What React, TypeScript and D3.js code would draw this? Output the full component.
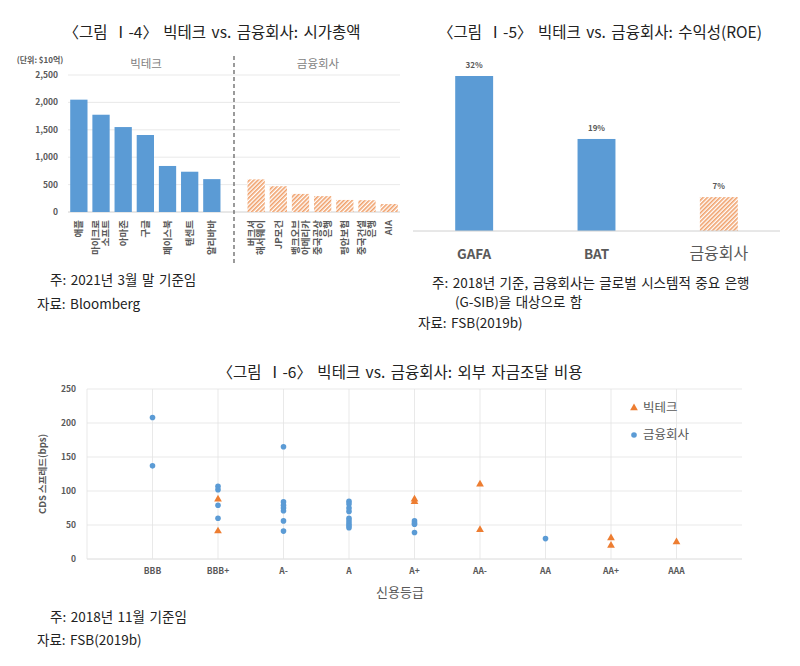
import { useEffect, useRef } from "react";
import * as d3 from "d3";

// Chart I-4: market cap ($10억)
const bigTechNames = ["애플", "마이크로\n소프트", "아마존", "구글", "페이스북", "텐센트", "알리바바"];
const bigTechCap = [2050, 1775, 1550, 1405, 840, 735, 600];
const finNames = ["버크셔\n해서웨이", "JP모건", "뱅크오브\n아메리카", "중국공상\n은행", "평안보험", "중국건설\n은행", "AIA"];
const finCap = [595, 470, 330, 290, 220, 215, 145];
const capTicks = [0, 500, 1000, 1500, 2000, 2500];

// Chart I-5: ROE (%)
const roeGroups = ["GAFA", "BAT", "금융회사"];
const roeValues = [32, 19, 7];

// Chart I-6: CDS spread (bps) by credit rating
const ratings = ["BBB", "BBB+", "A-", "A", "A+", "AA-", "AA", "AA+", "AAA"];
const finCds: [string, number][] = [
  ["BBB", 208], ["BBB", 137],
  ["BBB+", 107], ["BBB+", 102], ["BBB+", 79], ["BBB+", 60],
  ["A-", 165], ["A-", 84], ["A-", 79], ["A-", 75], ["A-", 71], ["A-", 56], ["A-", 41],
  ["A", 85], ["A", 81], ["A", 75], ["A", 70], ["A", 60], ["A", 56], ["A", 52], ["A", 49], ["A", 46],
  ["A+", 56], ["A+", 53], ["A+", 51], ["A+", 39],
  ["AA", 30],
];
const techCds: [string, number][] = [
  ["BBB+", 88], ["BBB+", 41],
  ["A+", 88], ["A+", 84],
  ["AA-", 110], ["AA-", 43],
  ["AA+", 31], ["AA+", 20],
  ["AAA", 25],
];
const cdsTicks = [0, 50, 100, 150, 200, 250];

const BLUE = "#5B9BD5";
const ORANGE = "#ED7D31";
const FONT = "'Noto Sans CJK KR', 'Noto Sans', sans-serif";

export default function App() {
  const ref = useRef<SVGSVGElement | null>(null);

  useEffect(() => {
    if (!ref.current) return;
    const svg = d3.select(ref.current);
    svg.selectAll("*").remove();
    svg.attr("width", 800).attr("height", 666).style("font-family", FONT);

    svg.append("rect").attr("width", 800).attr("height", 666).attr("fill", "#fff");

    const pat = svg.append("defs").append("pattern")
      .attr("id", "hatch").attr("patternUnits", "userSpaceOnUse")
      .attr("width", 3).attr("height", 3).attr("patternTransform", "rotate(45)");
    pat.append("rect").attr("width", 3).attr("height", 3).attr("fill", "#fff");
    pat.append("rect").attr("width", 1.6).attr("height", 3).attr("fill", "#F0A06A");

    const note = (g: d3.Selection<SVGGElement, unknown, null, undefined>, x: number, y: number, s: string) =>
      g.append("text").attr("x", x).attr("y", y).attr("font-size", 13.5).attr("word-spacing", 1.5)
        .attr("fill", "#222").text(s);
    const title = (g: d3.Selection<SVGGElement, unknown, null, undefined>, x: number, y: number, s: string) =>
      g.append("text").attr("x", x).attr("y", y).attr("text-anchor", "middle")
        .attr("font-size", 15.5).attr("word-spacing", 2).attr("fill", "#222").text(s);

    // ---------- Chart I-4 ----------
    const g1 = svg.append("g");
    title(g1, 212, 38, "〈그림 Ⅰ-4〉 빅테크 vs. 금융회사: 시가총액");

    const cats = [...bigTechNames, "", ...finNames];
    const vals = [...bigTechCap, 0, ...finCap];
    const bars = vals.map((v, i) => ({ i, v, tech: i < bigTechNames.length })).filter(d => d.i !== bigTechNames.length);
    const x1 = d3.scaleBand<number>().domain(d3.range(cats.length)).range([68, 400]).paddingInner(0.22).paddingOuter(0.1);
    const y1 = d3.scaleLinear().domain([0, 2500]).range([212, 75]);

    g1.selectAll(".grid").data(capTicks.slice(1)).join("line")
      .attr("x1", 68).attr("x2", 400).attr("y1", d => y1(d)).attr("y2", d => y1(d))
      .attr("stroke", "#e3e3e3").attr("stroke-width", 0.8);
    g1.append("line").attr("x1", 68).attr("x2", 400).attr("y1", y1(0)).attr("y2", y1(0))
      .attr("stroke", "#d0d0d0").attr("stroke-width", 1);
    g1.selectAll(".ytick").data(capTicks).join("text")
      .attr("x", 58).attr("y", d => y1(d) + 3).attr("text-anchor", "end")
      .attr("font-size", 8.5).attr("font-weight", 700).attr("fill", "#595959")
      .text(d => d3.format(",")(d));

    g1.selectAll(".bar").data(bars).join("rect")
      .attr("x", d => x1(d.i)!)
      .attr("y", d => y1(d.v)).attr("width", x1.bandwidth()).attr("height", d => y1(0) - y1(d.v))
      .attr("fill", d => (d.tech ? BLUE : "url(#hatch)"));

    // rotated labels
    cats.forEach((c, i) => {
      if (!c) return;
      const lines = c.split("\n");
      const cx = x1(i)! + x1.bandwidth() / 2;
      const t = g1.append("text")
        .attr("transform", `translate(${cx},220) rotate(-90)`)
        .attr("text-anchor", "end").attr("font-size", 9.5).attr("fill", "#595959").attr("font-weight", 600);
      lines.forEach((l, j) => {
        t.append("tspan").attr("x", 0)
          .attr("dy", j === 0 ? `${0.35 - ((lines.length - 1) * 1.05) / 2}em` : "1.05em")
          .text(l);
      });
    });

    const sepX = x1(bigTechNames.length)! + x1.bandwidth() / 2;
    g1.append("line").attr("x1", sepX).attr("x2", sepX).attr("y1", 56).attr("y2", 265)
      .attr("stroke", "#595959").attr("stroke-width", 1.2).attr("stroke-dasharray", "4,3");
    g1.append("text").attr("x", 40).attr("y", 63).attr("text-anchor", "middle")
      .attr("font-size", 8).attr("font-weight", 700).attr("fill", "#595959").text("(단위: $10억)");
    g1.append("text").attr("x", 146).attr("y", 68).attr("text-anchor", "middle")
      .attr("font-size", 11.5).attr("fill", "#7f7f7f").text("빅테크");
    g1.append("text").attr("x", 318).attr("y", 68).attr("text-anchor", "middle")
      .attr("font-size", 11.5).attr("fill", "#7f7f7f").text("금융회사");

    note(g1, 50, 285, "주: 2021년 3월 말 기준임");
    note(g1, 37, 309, "자료: Bloomberg");

    // ---------- Chart I-5 ----------
    const g2 = svg.append("g");
    title(g2, 600, 38, "〈그림 Ⅰ-5〉 빅테크 vs. 금융회사: 수익성(ROE)");
    const x2 = d3.scaleBand<string>().domain(roeGroups).range([413, 780]).paddingInner(0.69).paddingOuter(0.345);
    const y2 = d3.scaleLinear().domain([0, 32]).range([231, 76]);
    g2.selectAll(".bar").data(roeValues).join("rect")
      .attr("x", (_, i) => x2(roeGroups[i])!).attr("y", d => y2(d))
      .attr("width", x2.bandwidth()).attr("height", d => y2(0) - y2(d))
      .attr("fill", (_, i) => (i < 2 ? BLUE : "url(#hatch)"));
    g2.append("line").attr("x1", 413).attr("x2", 780).attr("y1", y2(0)).attr("y2", y2(0))
      .attr("stroke", "#d0d0d0").attr("stroke-width", 1);
    g2.selectAll(".lab").data(roeValues).join("text")
      .attr("x", (_, i) => x2(roeGroups[i])! + x2.bandwidth() / 2).attr("y", d => y2(d) - 8)
      .attr("text-anchor", "middle").attr("font-size", 8).attr("font-weight", 700).attr("fill", "#595959")
      .text(d => d + "%");
    g2.selectAll(".cat").data(roeGroups).join("text")
      .attr("x", d => x2(d)! + x2.bandwidth() / 2).attr("y", 259).attr("text-anchor", "middle")
      .attr("font-size", (_, i) => (i < 2 ? 13.5 : 16)).attr("font-weight", (_, i) => (i < 2 ? 700 : 400))
      .attr("fill", "#595959").text(d => d);

    note(g2, 432, 288, "주: 2018년 기준, 금융회사는 글로벌 시스템적 중요 은행");
    note(g2, 455, 307, "(G-SIB)을 대상으로 함");
    note(g2, 418, 328, "자료: FSB(2019b)");

    // ---------- Chart I-6 ----------
    const g3 = svg.append("g");
    title(g3, 400, 378, "〈그림 Ⅰ-6〉 빅테크 vs. 금융회사: 외부 자금조달 비용");
    const x3 = d3.scaleLinear().domain([0, ratings.length + 1]).range([87, 742]);
    const y3 = d3.scaleLinear().domain([0, 250]).range([559, 389]);
    const xPos = (r: string) => x3(ratings.indexOf(r) + 1);

    g3.selectAll(".hg").data(cdsTicks).join("line")
      .attr("x1", x3(0)).attr("x2", x3(ratings.length + 1)).attr("y1", d => y3(d)).attr("y2", d => y3(d))
      .attr("stroke", d => (d === 0 ? "#d0d0d0" : "#e3e3e3")).attr("stroke-width", 0.8);
    g3.selectAll(".vg").data(d3.range(0, ratings.length + 1)).join("line")
      .attr("x1", d => x3(d)).attr("x2", d => x3(d)).attr("y1", y3(0)).attr("y2", y3(250))
      .attr("stroke", "#e3e3e3").attr("stroke-width", 0.8);
    g3.selectAll(".yt").data(cdsTicks).join("text")
      .attr("x", 76).attr("y", d => y3(d) + 3).attr("text-anchor", "end")
      .attr("font-size", 8.5).attr("font-weight", 700).attr("fill", "#595959").text(d => d);
    g3.selectAll(".xt").data(ratings).join("text")
      .attr("x", d => xPos(d)).attr("y", 574).attr("text-anchor", "middle")
      .attr("font-size", 8.5).attr("font-weight", 700).attr("fill", "#595959").text(d => d);
    g3.append("text").attr("x", 400).attr("y", 597).attr("text-anchor", "middle")
      .attr("font-size", 13).attr("fill", "#595959").text("신용등급");
    g3.append("text").attr("transform", `translate(46,${y3(125)}) rotate(-90)`).attr("text-anchor", "middle")
      .attr("font-size", 9.5).attr("font-weight", 700).attr("fill", "#595959").text("CDS 스프레드(bps)");

    g3.selectAll(".fin").data(finCds).join("circle")
      .attr("cx", d => xPos(d[0])).attr("cy", d => y3(d[1])).attr("r", 2.8).attr("fill", BLUE);
    const tri = d3.symbol().type(d3.symbolTriangle).size(26);
    g3.selectAll(".tech").data(techCds).join("path")
      .attr("d", tri()!).attr("transform", d => `translate(${xPos(d[0])},${y3(d[1])})`).attr("fill", ORANGE);

    // legend
    g3.append("path").attr("d", tri()!).attr("transform", "translate(634,408)").attr("fill", ORANGE);
    g3.append("text").attr("x", 643).attr("y", 412).attr("font-size", 12.5).attr("fill", "#595959").text("빅테크");
    g3.append("circle").attr("cx", 634).attr("cy", 435).attr("r", 2.8).attr("fill", BLUE);
    g3.append("text").attr("x", 643).attr("y", 439).attr("font-size", 12.5).attr("fill", "#595959").text("금융회사");

    note(g3, 50, 622, "주: 2018년 11월 기준임");
    note(g3, 37, 645, "자료: FSB(2019b)");
  }, []);

  return <svg ref={ref} style={{ position: "absolute", left: 0, top: 0 }} />;
}
